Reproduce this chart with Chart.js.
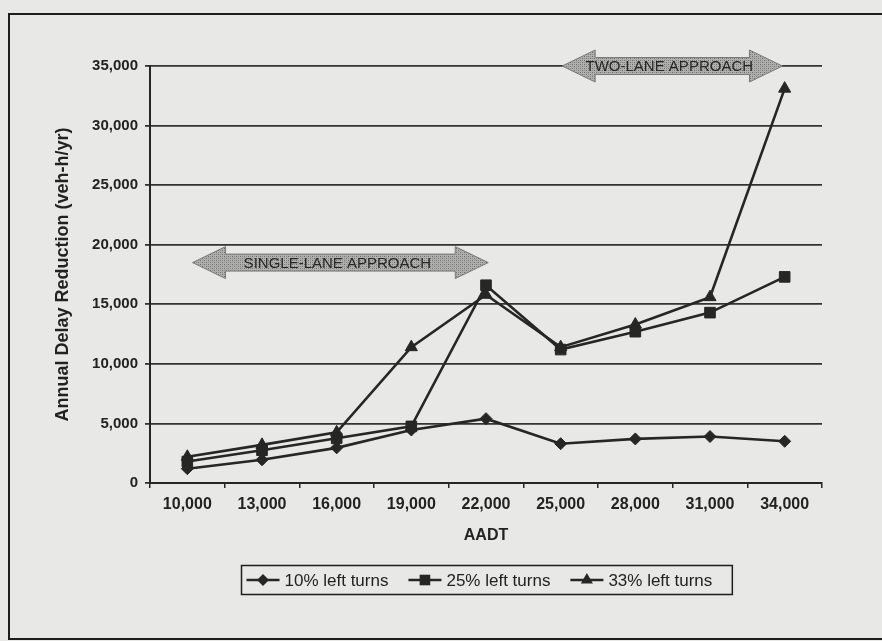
<!DOCTYPE html>
<html>
<head>
<meta charset="utf-8">
<script src="https://cdn.jsdelivr.net/npm/chart.js@4/dist/chart.umd.min.js"></script>
<style>
  html, body { margin: 0; padding: 0; background: #e8e8e6; }
  #wrap { width: 882px; height: 641px; }
</style>
</head>
<body>
<div id="wrap"><canvas id="c" width="882" height="641"></canvas></div>
<script>
// AADT categories (x axis tick labels)
const aadt = ['10,000', '13,000', '16,000', '19,000', '22,000', '25,000', '28,000', '31,000', '34,000'];

// Annual delay reduction (veh-h/yr) by share of left turns
const leftTurns10 = [1200, 1950, 2950, 4450, 5400, 3300, 3700, 3900, 3500];
const leftTurns25 = [1800, 2750, 3750, 4750, 16600, 11200, 12700, 14300, 17300];
const leftTurns33 = [2200, 3200, 4250, 11400, 15800, 11400, 13300, 15600, 33100];

const seriesNames = ['10% left turns', '25% left turns', '33% left turns'];
const seriesMarkers = ['rectRot', 'rect', 'triangle'];

// Approach-type ranges, in category-index units along AADT, and the level they sit at
const rangeLabels = ['SINGLE-LANE APPROACH', 'TWO-LANE APPROACH'];
const rangeStart = [0.07, 5.02];
const rangeEnd = [4.03, 7.97];
const rangeLevel = [18500, 35000];

const INK = '#262626';
const FONT = '"Liberation Sans", Arial, sans-serif';

// halftone-like fill for the range arrows
function stipple(ctx) {
  const p = document.createElement('canvas');
  p.width = 4; p.height = 4;
  const g = p.getContext('2d');
  g.fillStyle = '#b0b0ae';
  g.fillRect(0, 0, 4, 4);
  g.fillStyle = '#6e6e6c';
  g.fillRect(0, 0, 1, 1);
  g.fillRect(2, 2, 1, 1);
  g.fillStyle = '#8c8c8a';
  g.fillRect(2, 0, 1, 1);
  g.fillRect(0, 2, 1, 1);
  return ctx.createPattern(p, 'repeat');
}

function markerPath(ctx, style, x, y, r) {
  ctx.beginPath();
  if (style === 'rectRot') {
    ctx.moveTo(x, y - r); ctx.lineTo(x + r, y); ctx.lineTo(x, y + r); ctx.lineTo(x - r, y);
  } else if (style === 'rect') {
    const s = r * Math.SQRT1_2;
    ctx.rect(x - s, y - s, 2 * s, 2 * s);
  } else {
    ctx.moveTo(x, y - r);
    ctx.lineTo(x + r * Math.cos(Math.PI / 6), y + r / 2);
    ctx.lineTo(x - r * Math.cos(Math.PI / 6), y + r / 2);
  }
  ctx.closePath();
}

const framePlugin = {
  id: 'frame',
  beforeDraw(chart) {
    const ctx = chart.ctx;
    ctx.save();
    ctx.fillStyle = '#e8e8e6';
    ctx.fillRect(0, 0, chart.width, chart.height);
    ctx.strokeStyle = '#1e1e1e';
    ctx.lineWidth = 2;
    ctx.strokeRect(9, 14, chart.width + 20, 625);
    ctx.restore();
  }
};

const rangePlugin = {
  id: 'ranges',
  afterDatasetsDraw(chart) {
    const ctx = chart.ctx;
    const xs = chart.scales.x, ys = chart.scales.y;
    const fill = stipple(ctx);
    ctx.save();
    for (let i = 0; i < rangeLabels.length; i++) {
      const x1 = xs.getPixelForValue(rangeStart[i]);
      const x2 = xs.getPixelForValue(rangeEnd[i]);
      const y = ys.getPixelForValue(rangeLevel[i]);
      const hl = 33, hh = 16, sh = 8.5;
      ctx.beginPath();
      ctx.moveTo(x1, y);
      ctx.lineTo(x1 + hl, y - hh);
      ctx.lineTo(x1 + hl, y - sh);
      ctx.lineTo(x2 - hl, y - sh);
      ctx.lineTo(x2 - hl, y - hh);
      ctx.lineTo(x2, y);
      ctx.lineTo(x2 - hl, y + hh);
      ctx.lineTo(x2 - hl, y + sh);
      ctx.lineTo(x1 + hl, y + sh);
      ctx.lineTo(x1 + hl, y + hh);
      ctx.closePath();
      ctx.fillStyle = fill;
      ctx.fill();
      ctx.strokeStyle = '#7a7a78';
      ctx.lineWidth = 1;
      ctx.stroke();
      ctx.fillStyle = '#262626';
      ctx.font = '15px ' + FONT;
      ctx.textAlign = 'center';
      ctx.textBaseline = 'middle';
      ctx.fillText(rangeLabels[i], (x1 + x2) / 2 - 3, y + 1);
    }
    ctx.restore();
  }
};

const legendPlugin = {
  id: 'boxLegend',
  afterDraw(chart) {
    const ctx = chart.ctx;
    ctx.save();
    ctx.font = '17px ' + FONT;
    const lineLen = 33, gapText = 5, gapItem = 20, padL = 5, padR = 20;
    const widths = chart.data.datasets.map(d => ctx.measureText(d.label).width);
    let total = padL + padR;
    widths.forEach((w, i) => { total += lineLen + gapText + w + (i < widths.length - 1 ? gapItem : 0); });
    const cx = (chart.chartArea.left + chart.chartArea.right) / 2;
    const left = Math.round(cx - total / 2) + 0.5;
    const top = 565.5, h = 29, cy = top + h / 2;
    ctx.strokeStyle = '#1e1e1e';
    ctx.lineWidth = 1.5;
    ctx.strokeRect(left, top, total, h);
    let x = left + padL;
    chart.data.datasets.forEach((d, i) => {
      ctx.strokeStyle = INK;
      ctx.lineWidth = 2.5;
      ctx.beginPath();
      ctx.moveTo(x, cy); ctx.lineTo(x + lineLen, cy);
      ctx.stroke();
      markerPath(ctx, d.pointStyle, x + lineLen / 2, cy, d.pointRadius);
      ctx.fillStyle = INK;
      ctx.fill();
      ctx.fillStyle = '#222';
      ctx.textAlign = 'left';
      ctx.textBaseline = 'middle';
      ctx.fillText(d.label, x + lineLen + gapText, cy + 1);
      x += lineLen + gapText + widths[i] + gapItem;
    });
    ctx.restore();
  }
};

function series(label, values, style, r) {
  return {
    label: label,
    data: values,
    borderColor: INK,
    backgroundColor: INK,
    borderWidth: 2.6,
    pointStyle: style,
    pointRadius: r,
    pointHoverRadius: r,
    pointBackgroundColor: INK,
    pointBorderColor: INK,
    pointBorderWidth: 1,
    tension: 0
  };
}

new Chart(document.getElementById('c'), {
  type: 'line',
  data: {
    labels: aadt,
    datasets: [
      series(seriesNames[0], leftTurns10, seriesMarkers[0], 6),
      series(seriesNames[1], leftTurns25, seriesMarkers[1], 7.5),
      series(seriesNames[2], leftTurns33, seriesMarkers[2], 7)
    ]
  },
  options: {
    responsive: false,
    animation: false,
    layout: { padding: { left: 50, right: 60, top: 66, bottom: 92 } },
    plugins: {
      legend: { display: false },
      tooltip: { enabled: false }
    },
    scales: {
      x: {
        type: 'category',
        offset: true,
        grid: { offset: true, drawOnChartArea: false, drawTicks: true, tickLength: 5, color: INK, lineWidth: 1.5 },
        border: { display: true, color: INK, width: 2 },
        ticks: { color: '#222', font: { family: FONT, size: 16, weight: 'bold' }, padding: 7, maxRotation: 0, autoSkip: false },
        title: { display: true, text: 'AADT', color: '#222', font: { family: FONT, size: 16, weight: 'bold' }, padding: { top: 4, bottom: 4 } },
        afterFit(scale) { scale.height = 66; }
      },
      y: {
        min: 0,
        max: 35000,
        ticks: {
          stepSize: 5000,
          color: '#222',
          font: { family: FONT, size: 15, weight: 'bold' },
          padding: 7,
          callback: v => v.toLocaleString('en-US')
        },
        grid: { color: '#333', lineWidth: 1.8, tickLength: 5 },
        border: { display: true, color: INK, width: 2 },
        title: { display: true, text: 'Annual Delay Reduction (veh-h/yr)', color: '#222', font: { family: FONT, size: 18, weight: 'bold' }, padding: { top: 2, bottom: 2 } },
        afterFit(scale) { scale.width = 100; }
      }
    }
  },
  plugins: [framePlugin, rangePlugin, legendPlugin]
});
</script>
</body>
</html>
